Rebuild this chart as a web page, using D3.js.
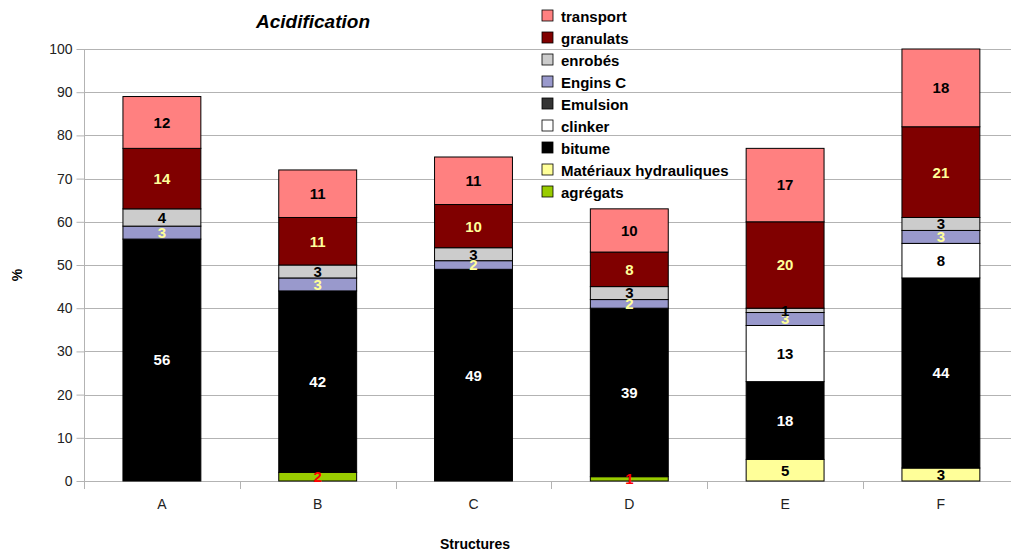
<!DOCTYPE html>
<html><head><meta charset="utf-8">
<script src="https://cdn.jsdelivr.net/npm/d3@7/dist/d3.min.js"></script>
<style>body{margin:0;background:#fff;}svg{display:block;font-family:"Liberation Sans",Arial,sans-serif;}</style>
</head><body>
<svg id="c" width="1011" height="553"></svg>
<script>
const categories = ["A","B","C","D","E","F"];
// series, bottom to top of the stack
const seriesNames = ["agrégats","Matériaux hydrauliques","bitume","clinker","Emulsion","Engins C","enrobés","granulats","transport"];
const agregats   = [0, 2, 0, 1, 0, 0];
const matHydr    = [0, 0, 0, 0, 5, 3];
const bitume     = [56, 42, 49, 39, 18, 44];
const clinker    = [0, 0, 0, 0, 13, 8];
const emulsion   = [0, 0, 0, 0, 0, 0];
const enginsC    = [3, 3, 2, 2, 3, 3];
const enrobes    = [4, 3, 3, 3, 1, 3];
const granulats  = [14, 11, 10, 8, 20, 21];
const transport  = [12, 11, 11, 10, 17, 18];
const yTicks = [0,10,20,30,40,50,60,70,80,90,100];

const seriesValues = [agregats, matHydr, bitume, clinker, emulsion, enginsC, enrobes, granulats, transport];
const fills  = ["#99cc00","#ffff99","#000000","#ffffff","#333333","#9999cc","#cccccc","#800000","#ff8080"];
const labelColors = ["#ff0000","#000000","#ffffff","#000000","#ffffff","#ffff99","#000000","#ffff99","#000000"];

const table = categories.map((c,i)=>{
  const o = {cat:c};
  seriesNames.forEach((s,j)=>o[s]=seriesValues[j][i]);
  return o;
});
const stacked = d3.stack().keys(seriesNames)(table);

const svg = d3.select("#c");
const mLeft = 84, mTop = 49, mBottom = 481, bandW = 155.8;
const mRight = mLeft + bandW*categories.length;

const x = d3.scaleBand().domain(categories).range([mLeft, mRight]).paddingInner(0.5).paddingOuter(0.25);
const y = d3.scaleLinear().domain([0,100]).range([mBottom, mTop]);
const grey = "#b3b3b3";

// gridlines
svg.append("g").selectAll("line").data(yTicks).join("line")
  .attr("x1", mLeft).attr("x2", 1011)
  .attr("y1", d=>Math.round(y(d))+0.5).attr("y2", d=>Math.round(y(d))+0.5)
  .attr("stroke", grey).attr("stroke-width", 1);

// y axis
const yAxis = svg.append("g").attr("transform",`translate(${mLeft+0.5},0)`)
  .call(d3.axisLeft(y).tickValues(yTicks).tickSize(8).tickPadding(4));
yAxis.select(".domain").attr("stroke", grey).attr("d", `M0,${mTop}V${mBottom+8}`);
yAxis.selectAll(".tick line").attr("stroke", grey);
yAxis.selectAll("text").attr("font-size", 14).attr("fill","#222").attr("font-family","Liberation Sans, Arial, sans-serif");

// x axis (ticks at band boundaries)
const boundaries = d3.range(categories.length+1).map(i=>mLeft + i*bandW);
svg.append("g").selectAll("line").data(boundaries).join("line")
  .attr("x1", d=>Math.round(d)+0.5).attr("x2", d=>Math.round(d)+0.5).attr("y1", mBottom).attr("y2", mBottom+8)
  .attr("stroke", grey);
svg.append("g").selectAll("text").data(categories).join("text")
  .attr("x", d=>x(d)+x.bandwidth()/2).attr("y", 509)
  .attr("text-anchor","middle").attr("font-size",14).attr("fill","#222").text(d=>d);

// bars
stacked.forEach((layer,j)=>{
  svg.append("g").selectAll("rect").data(layer.filter(d=>d[1]-d[0]>0)).join("rect")
    .attr("x", d=>x(d.data.cat)).attr("width", x.bandwidth())
    .attr("y", d=>y(d[1])).attr("height", d=>y(d[0])-y(d[1]))
    .attr("fill", fills[j]).attr("stroke","#000").attr("stroke-width",1);
});
// labels
stacked.forEach((layer,j)=>{
  svg.append("g").selectAll("text").data(layer.filter(d=>d[1]-d[0]>0)).join("text")
    .attr("x", d=>x(d.data.cat)+x.bandwidth()/2)
    .attr("y", d=>(y(d[0])+y(d[1]))/2)
    .attr("dy","0.36em")
    .attr("text-anchor","middle").attr("font-size",15).attr("font-weight","bold")
    .attr("fill", labelColors[j]).text(d=>d[1]-d[0]);
});

// title
svg.append("text").attr("x",313).attr("y",28).attr("text-anchor","middle")
  .attr("font-size",19).attr("font-weight","bold").attr("font-style","italic").text("Acidification");
// axis titles
svg.append("text").attr("transform","translate(22,275) rotate(-90)").attr("text-anchor","middle")
  .attr("font-size",14).attr("font-weight","bold").text("%");
svg.append("text").attr("x",475).attr("y",549).attr("text-anchor","middle")
  .attr("font-size",14).attr("font-weight","bold").text("Structures");

// legend (top to bottom reversed)
const legendItems = seriesNames.map((s,j)=>({name:s, fill:fills[j]})).reverse();
const lg = svg.append("g").selectAll("g").data(legendItems).join("g")
  .attr("transform",(d,i)=>`translate(542,${10 + i*22})`);
lg.append("rect").attr("width",11).attr("height",11).attr("fill",d=>d.fill)
  .attr("stroke","#000").attr("stroke-width",0.8);
lg.append("text").attr("x",19).attr("y",11.5).attr("font-size",15).attr("font-weight","bold").text(d=>d.name);
</script>
</body></html>
